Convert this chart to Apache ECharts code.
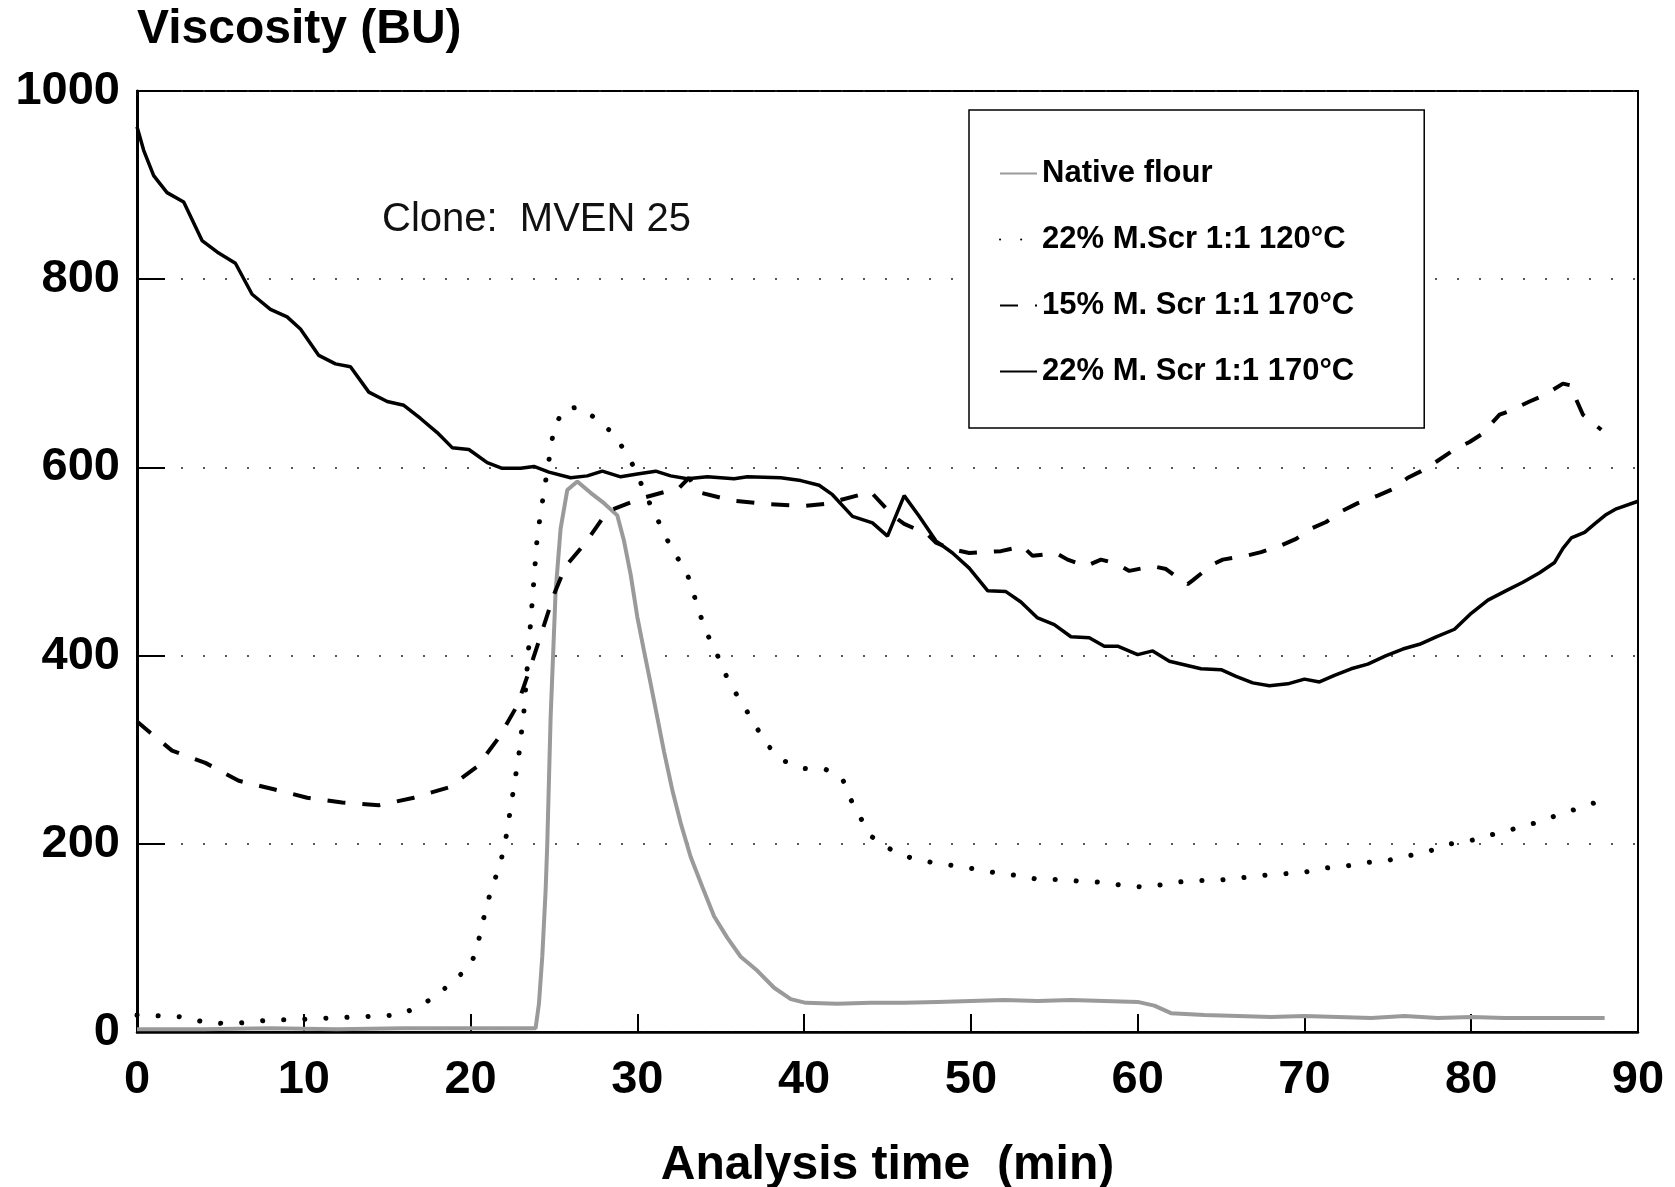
<!DOCTYPE html>
<html>
<head>
<meta charset="utf-8">
<script src="https://cdn.jsdelivr.net/npm/echarts@6/dist/echarts.min.js"></script>
<style>
html,body{margin:0;padding:0;background:#fff;}
#chart{width:1675px;height:1187px;}
</style>
</head>
<body>
<div id="chart"></div>
<script>
// ---- Data ----
const seriesNames = ['Native flour', '22% M.Scr 1:1 120°C', '15% M. Scr 1:1 170°C', '22% M. Scr 1:1 170°C'];
const xTicks = [0, 10, 20, 30, 40, 50, 60, 70, 80, 90];
const yTicks = [0, 200, 400, 600, 800, 1000];

const nativeX = [0, 4, 8, 12, 16, 20, 23.9, 24.1, 24.3, 24.5, 24.6, 24.8, 25.1, 25.4, 25.8, 26.4, 27.2, 28.0, 28.8, 29.2, 29.6, 30.0, 30.4, 30.8, 31.2, 31.6, 32.1, 32.6, 33.2, 33.9, 34.6, 35.4, 36.2, 37.2, 38.2, 39.2, 40.1, 42, 44, 46, 48, 50, 52, 54, 56, 58, 60, 61, 62, 64, 66, 68, 70, 72, 74, 76, 78, 80, 82, 84, 86, 88];
const nativeY = [3, 3, 4, 3, 4, 4, 4, 30, 80, 150, 200, 334, 468, 535, 576, 585, 573, 562, 549, 522, 486, 441, 405, 370, 334, 298, 257, 222, 186, 154, 123, 100, 80, 65, 47, 35, 31, 30, 31, 31, 32, 33, 34, 33, 34, 33, 32, 28, 20, 18, 17, 16, 17, 16, 15, 17, 15, 16, 15, 15, 15, 15];

const m120X = [0, 1.5, 2.9, 4.1, 5.4, 6.6, 8.0, 9.2, 10.5, 11.8, 13.2, 14.4, 15.7, 16.9, 18.0, 19.0, 20.0, 20.4, 20.7, 21.0, 21.4, 21.8, 22.1, 22.5, 22.9, 23.2, 23.5, 23.8, 24.0, 24.4, 24.8, 25.0, 25.6, 26.5, 27.6, 28.6, 29.3, 29.9, 30.4, 31.0, 31.6, 32.1, 32.9, 33.3, 33.7, 34.1, 34.7, 35.2, 35.8, 36.5, 37.2, 37.9, 38.8, 40.0, 41.3, 42.3, 42.8, 43.4, 44.1, 45.2, 46.4, 47.7, 48.9, 50.3, 51.5, 52.9, 54.1, 55.4, 56.7, 58.0, 59.3, 60.6, 61.9, 63.2, 64.6, 65.8, 67.2, 68.5, 69.8, 71.1, 72.4, 73.6, 74.9, 76.2, 77.6, 78.8, 80.1, 81.3, 82.6, 83.8, 85.1, 86.3, 87.8];
const m120Y = [18, 17, 16, 10, 9, 10, 13, 13, 14, 15, 16, 17, 18, 27, 39, 55, 70, 91, 114, 137, 159, 180, 204, 249, 295, 341, 412, 481, 527, 574, 619, 642, 662, 664, 651, 635, 616, 597, 575, 552, 531, 511, 492, 470, 447, 426, 405, 383, 363, 343, 322, 303, 288, 280, 279, 269, 247, 227, 207, 194, 185, 180, 177, 173, 169, 166, 162, 162, 160, 159, 155, 154, 158, 161, 161, 163, 166, 168, 169, 174, 176, 180, 182, 187, 193, 200, 204, 210, 216, 222, 230, 237, 246];

const m15X = [0, 0.8, 2.1, 4.1, 6.1, 8.2, 10.2, 12.3, 14.5, 16.6, 18.7, 20.4, 21.7, 22.8, 23.5, 24.2, 25.0, 25.7, 26.9, 28.2, 30.2, 32.5, 33.1, 33.6, 35.6, 37.8, 40.0, 41.7, 42.1, 44.0, 45.3, 46.0, 47.4, 47.9, 48.9, 49.9, 50.9, 51.8, 53.1, 53.7, 55.1, 55.8, 56.9, 57.8, 58.7, 59.5, 60.9, 61.7, 62.6, 63.0, 63.3, 64.5, 65.1, 66.5, 67.4, 68.6, 69.5, 70.4, 71.3, 72.3, 73.2, 74.4, 75.3, 76.2, 77.0, 77.9, 78.9, 79.9, 80.6, 81.7, 82.3, 83.5, 84.4, 85.5, 86.0, 86.3, 86.7, 87.8];
const m15Y = [330, 318, 299, 286, 267, 258, 249, 244, 241, 249, 260, 282, 313, 347, 383, 421, 465, 495, 520, 553, 567, 578, 589, 574, 565, 561, 559, 562, 565, 574, 549, 540, 529, 520, 513, 509, 510, 511, 516, 506, 509, 502, 495, 502, 498, 490, 495, 492, 480, 476, 480, 497, 502, 506, 510, 517, 524, 535, 542, 554, 562, 570, 577, 589, 596, 606, 618, 627, 635, 656, 660, 670, 677, 689, 687, 672, 656, 640];

const m22X = [0, 0.4, 1.0, 1.8, 2.8, 3.9, 4.8, 5.9, 6.9, 8.0, 9.0, 9.8, 10.9, 11.9, 12.8, 13.9, 15.0, 16.0, 17.0, 18.0, 18.9, 19.9, 21.0, 21.9, 23.0, 23.8, 24.7, 26.0, 27.0, 27.9, 29.0, 30.0, 31.1, 32.0, 33.0, 34.2, 35.8, 36.6, 38.6, 39.8, 40.9, 41.7, 42.9, 44.1, 45.0, 46.0, 46.9, 47.9, 48.9, 49.9, 51.0, 52.1, 53.0, 54.0, 55.0, 56.0, 57.1, 58.0, 58.8, 60.0, 60.9, 61.9, 63.1, 63.8, 65.0, 65.9, 66.9, 67.9, 69.0, 70.0, 70.9, 71.8, 72.8, 73.8, 74.9, 75.9, 76.9, 77.9, 79.0, 80.0, 81.0, 82.1, 83.1, 84.1, 85.0, 85.5, 86.0, 86.8, 87.4, 88.1, 88.7, 90.0];
const m22Y = [962, 937, 910, 892, 882, 841, 829, 817, 784, 768, 760, 747, 719, 710, 707, 680, 670, 666, 652, 637, 621, 619, 605, 599, 599, 601, 595, 589, 591, 596, 590, 593, 596, 591, 588, 590, 588, 590, 589, 586, 581, 571, 548, 541, 527, 570, 548, 522, 509, 493, 469, 468, 457, 440, 433, 420, 419, 410, 410, 401, 405, 394, 389, 386, 385, 378, 371, 368, 370, 375, 372, 379, 386, 391, 400, 407, 412, 420, 428, 445, 459, 469, 478, 488, 499, 514, 525, 531, 540, 550, 556, 564];

const zip = (xs, ys) => xs.map((x, i) => [x, ys[i]]);
const FONT = "'Liberation Sans', Arial, Helvetica, sans-serif";

const chart = echarts.init(document.getElementById('chart'), null, {renderer: 'canvas'});
chart.setOption({
  backgroundColor: '#ffffff',
  animation: false,
  title: {
    text: 'Clone:  MVEN 25',
    left: 377, top: 195,
    textStyle: {fontFamily: FONT, fontSize: 40, fontWeight: 'normal', color: '#111'}
  },
  grid: {
    left: 137, right: 37, top: 91, bottom: 155,
    outerBoundsMode: 'none', containLabel: false,
    show: true, borderColor: '#000', borderWidth: 2, backgroundColor: 'transparent'
  },
  legend: {
    orient: 'vertical',
    left: 969, top: 110,
    padding: [48, 70, 41, 30],
    itemGap: 35,
    itemWidth: 37, itemHeight: 14,
    borderColor: '#000', borderWidth: 1.5, backgroundColor: '#fff',
    itemStyle: {opacity: 0, color: 'transparent', borderWidth: 0},
    textStyle: {fontFamily: FONT, fontSize: 31, fontWeight: 'bold', color: '#000'},
    data: seriesNames
  },
  xAxis: {
    type: 'value', min: 0, max: 90, interval: 10,
    name: 'Analysis time  (min)', nameLocation: 'middle', nameGap: 110,
    nameTextStyle: {fontFamily: FONT, fontSize: 48, fontWeight: 'bold', color: '#000'},
    axisLine: {show: true, lineStyle: {color: '#000', width: 2.5}},
    axisTick: {show: true, inside: true, length: 18, lineStyle: {color: '#000', width: 2}},
    axisLabel: {
      fontFamily: FONT, fontSize: 47, fontWeight: 'bold', color: '#000', margin: 25,
      formatter: v => xTicks.includes(v) ? String(v) : ''
    },
    splitLine: {show: false}
  },
  yAxis: {
    type: 'value', min: 0, max: 1000, interval: 200,
    name: 'Viscosity (BU)', nameLocation: 'end', nameGap: 61,
    nameTextStyle: {fontFamily: FONT, fontSize: 48, fontWeight: 'bold', color: '#000', align: 'left', verticalAlign: 'middle'},
    axisLine: {show: true, lineStyle: {color: '#000', width: 3}},
    axisTick: {show: true, inside: true, length: 28, lineStyle: {color: '#000', width: 2}},
    axisLabel: {
      fontFamily: FONT, fontSize: 47, fontWeight: 'bold', color: '#000', margin: 17,
      formatter: v => yTicks.includes(v) ? String(v) : ''
    },
    splitLine: {show: true, lineStyle: {color: '#222', width: 1.5, type: [2, 20]}}
  },
  series: [
    {
      name: seriesNames[0], type: 'line', symbol: 'none', z: 2,
      data: zip(nativeX, nativeY),
      lineStyle: {color: '#9a9a9a', width: 4}, itemStyle: {color: '#9a9a9a'}
    },
    {
      name: seriesNames[1], type: 'line', symbol: 'none', z: 3,
      data: zip(m120X, m120Y),
      lineStyle: {color: '#000', width: 5, type: [0.1, 21], cap: 'round'}, itemStyle: {color: '#000'}
    },
    {
      name: seriesNames[2], type: 'line', symbol: 'none', z: 4,
      data: zip(m15X, m15Y),
      lineStyle: {color: '#000', width: 4, type: [18, 17]}, itemStyle: {color: '#000'}
    },
    {
      name: seriesNames[3], type: 'line', symbol: 'none', z: 5,
      data: zip(m22X, m22Y),
      lineStyle: {color: '#000', width: 3.5}, itemStyle: {color: '#000'}
    }
  ]
});
</script>
</body>
</html>
